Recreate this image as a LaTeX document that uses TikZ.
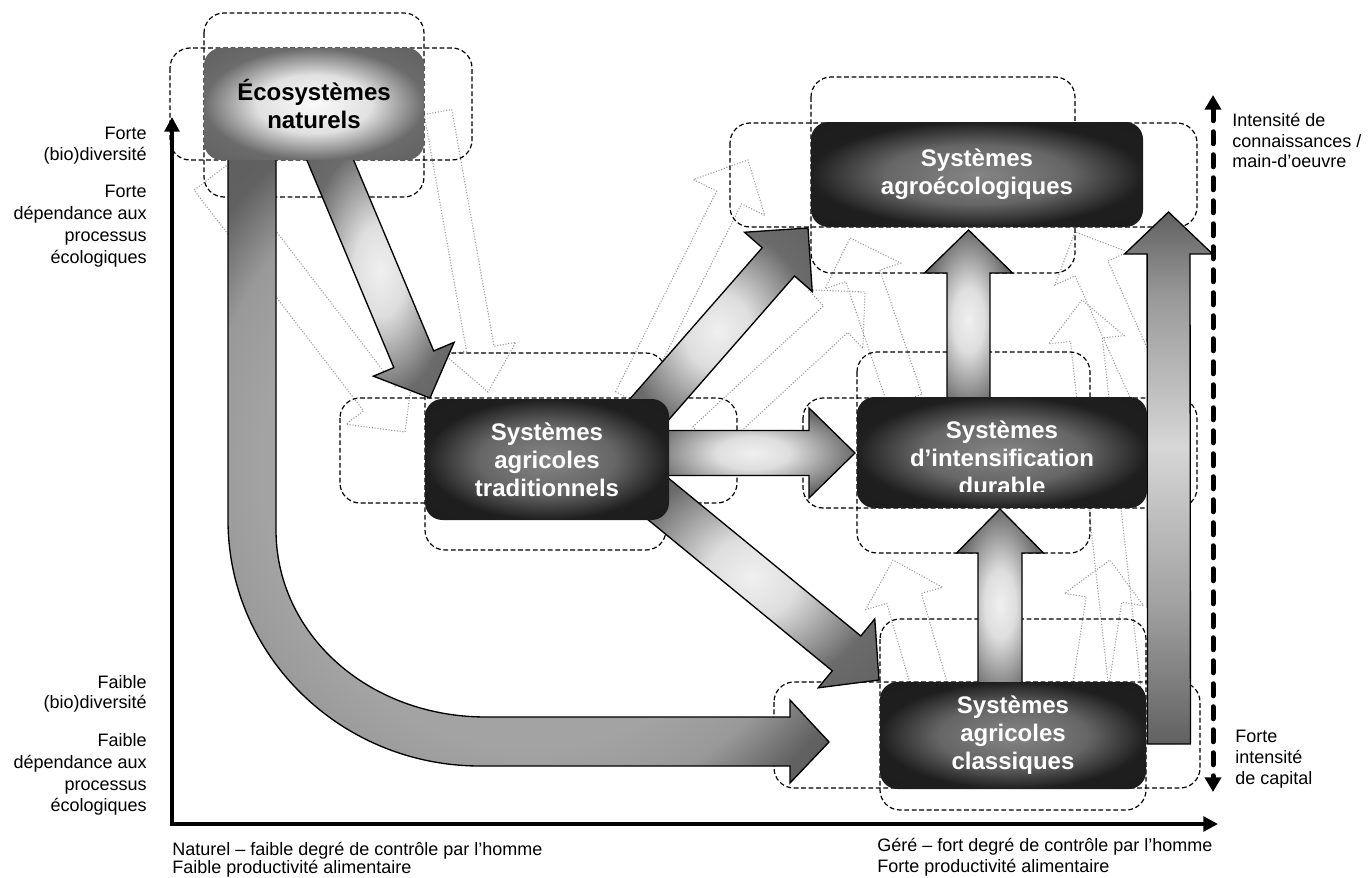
\documentclass[tikz,border=0pt]{standalone}
\usepackage{fontspec}
\setmainfont{Liberation Sans}
\usetikzlibrary{calc,arrows.meta}
\pgfdeclareradialshading{lightbox}{\pgfpoint{0bp}{0bp}}{color(0bp)=(black!2); color(13bp)=(black!12); color(25bp)=(black!58); color(50bp)=(black!68)}
\pgfdeclareradialshading{darkbox}{\pgfpoint{0bp}{0bp}}{color(0bp)=(black!48); color(14bp)=(black!60); color(25bp)=(black!88); color(50bp)=(black!90)}
\pgfdeclareradialshading{arrowshade}{\pgfpoint{0bp}{0bp}}{color(0bp)=(black!6); color(9bp)=(black!13); color(25bp)=(black!58); color(50bp)=(black!66)}
\pgfdeclareradialshading{curveshade}{\pgfpoint{0bp}{0bp}}{color(0bp)=(black!38); color(22bp)=(black!36); color(27bp)=(black!40); color(32bp)=(black!62); color(50bp)=(black!66)}
\pgfdeclareverticalshading{tallbar}{100bp}{color(0bp)=(black!62); color(25bp)=(black!62); color(38bp)=(black!37); color(53bp)=(black!16); color(67bp)=(black!40); color(75bp)=(black!62); color(100bp)=(black!62)}
% #1 prefix, #2 style, #3 start, #4 tip, #5 half shaft, #6 half head, #7 head length
\newcommand{\blockarr}[7]{%
  \coordinate (#1s) at #3;
  \coordinate (#1t) at #4;
  \coordinate (#1h) at ($(#1t)!#7!(#1s)$);
  \path[#2] ($(#1s)!#5!90:(#1t)$) -- ($(#1h)!#5!-90:(#1s)$) -- ($(#1h)!#6!-90:(#1s)$) -- (#1t)
     -- ($(#1h)!#6!90:(#1s)$) -- ($(#1h)!#5!90:(#1s)$) -- ($(#1s)!#5!-90:(#1t)$) -- cycle;
}
\begin{document}
\begin{tikzpicture}[x=0.75pt,y=-0.75pt,
  dashbox/.style={draw=black, line width=0.9pt, dash pattern=on 3.6pt off 2pt, rounded corners=15pt},
  sysbox/.style={rounded corners=13pt, inner sep=0pt, align=center, font=\fontsize{18}{21}\selectfont\bfseries},
  lbl/.style={inner sep=0pt, font=\fontsize{13.5}{16}\selectfont},
  blk/.style={shade, shading=arrowshade, draw=black, line width=1pt, line join=miter},
  ghost/.style={draw=black!40, line width=0.8pt, dash pattern=on 0.8pt off 1.3pt, line join=miter}]
\useasboundingbox[fill=white] (0,0) rectangle (1368,878);

% ghost (dotted) arrows
\blockarr{ga}{ghost}{(210,178)}{(405,432)}{15pt}{31.5pt}{31.5pt}
\blockarr{gb}{ghost}{(438,112)}{(488,392)}{10.5pt}{27pt}{33pt}
\blockarr{gc}{ghost}{(628,398)}{(748,160)}{10.5pt}{30pt}{31.5pt}
\blockarr{gd}{ghost}{(905,400)}{(850,238)}{13.5pt}{30pt}{30pt}
\blockarr{ge}{ghost}{(1160,420)}{(1075,232)}{13.5pt}{30pt}{30pt}
\blockarr{gf}{ghost}{(930,688)}{(893,560)}{13.5pt}{30pt}{30pt}
\blockarr{gg}{ghost}{(1090,690)}{(1110,560)}{13.5pt}{30pt}{30pt}
\blockarr{gh}{ghost}{(705,440)}{(865,292)}{13.5pt}{30pt}{30pt}
\blockarr{gi}{ghost}{(1125,690)}{(1082,300)}{12pt}{28.5pt}{30pt}

% dashed boxes
\draw[dashbox] (170,48) rectangle (472,160);
\draw[dashbox] (204,13) rectangle (424,197);
\draw[dashbox] (340,398) rectangle (737,503);
\draw[dashbox] (425,353) rectangle (666,550);
\draw[dashbox] (730,123) rectangle (1197,227);
\draw[dashbox] (811,77) rectangle (1075,273);
\draw[dashbox] (803,398) rectangle (1197,508);
\draw[dashbox] (857,352) rectangle (1090,553);
\draw[dashbox] (774,682) rectangle (1200,788);
\draw[dashbox] (880,619) rectangle (1146,810);

% axes
\coordinate (ytop) at (172,117);
\coordinate (orig) at (172,824);
\coordinate (xend) at (1218,824);
\draw[line width=3pt, line join=miter, {Triangle[length=11pt,width=11pt]}-{Triangle[length=11pt,width=11pt]}] (ytop) -- (orig) -- (xend);
\coordinate (dtop) at (1213,95);
\coordinate (dbot) at (1213,792);
\draw[line width=3.75pt, line cap=round, dash pattern=on 9pt off 8.25pt, {Triangle[length=11pt,width=12pt]}-{Triangle[length=11pt,width=12pt]}] (dtop) -- (dbot);

% curved arrow from natural ecosystems to classical systems
\path[blk, shading=curveshade] (228,150) -- (228,520) .. controls (228,656) and (341,766) .. (480,766)
  -- (790,766) -- (790,783) -- (829,742) -- (790,700) -- (790,717) -- (486,717)
  .. controls (367,717) and (276,633) .. (276,530) -- (276,150) -- cycle;

% straight block arrows
\blockarr{ab}{blk}{(326,150)}{(430,398)}{16.2pt}{32.8pt}{31.5pt}
\blockarr{ac}{blk}{(640,420)}{(808,228)}{16.1pt}{33.75pt}{33.75pt}
\blockarr{ad}{blk}{(650,453)}{(855,453)}{16.9pt}{33.75pt}{34.5pt}
\blockarr{ae}{blk}{(640,484)}{(879,680)}{16.9pt}{33.4pt}{31.5pt}
\blockarr{af}{blk}{(1000,700)}{(1000,509)}{16.5pt}{32.6pt}{33pt}
\blockarr{ag}{blk}{(968.5,410)}{(968.5,230)}{16.1pt}{33pt}{32.25pt}
\blockarr{ah}{blk, shading=tallbar}{(1169,744)}{(1168.5,212)}{16.1pt}{33pt}{31.5pt}

% system boxes
\node[sysbox, shade, shading=lightbox, minimum width=165pt, minimum height=84pt] (n1) at (314,104) {Écosystèmes\\naturels};
\node[sysbox, shade, shading=darkbox, text=white, minimum width=183pt, minimum height=90.75pt] (n2) at (547,459.5) {Systèmes\\agricoles\\traditionnels};
\node[sysbox, shade, shading=darkbox, text=white, minimum width=249pt, minimum height=78.75pt] (n3) at (977,174.5) {Systèmes\\agroécologiques};
\node[sysbox, shade, shading=darkbox, minimum width=217.5pt, minimum height=83.25pt] (n4) at (1002,452.5) {};
\begin{scope}
\clip (857,397) rectangle (1147,491);
\node[sysbox, text=white] (n4t) at (1002,458) {Systèmes\\d’intensification\\durable};
\end{scope}
\node[sysbox, shade, shading=darkbox, text=white, minimum width=199.5pt, minimum height=80.25pt] (n5) at (1013,735.5) {Systèmes\\agricoles\\classiques};

% left labels
\node[lbl, anchor=base east] (l1) at (147,139) {Forte};
\node[lbl, anchor=base east] (l2) at (147,160) {(bio)diversité};
\node[lbl, anchor=base east] (l3) at (147,197) {Forte};
\node[lbl, anchor=base east] (l4) at (147,219) {dépendance aux};
\node[lbl, anchor=base east] (l5) at (147,241) {processus};
\node[lbl, anchor=base east] (l6) at (147,263) {écologiques};
\node[lbl, anchor=base east] (l7) at (147,688) {Faible};
\node[lbl, anchor=base east] (l8) at (147,708) {(bio)diversité};
\node[lbl, anchor=base east] (l9) at (147,746) {Faible};
\node[lbl, anchor=base east] (l10) at (147,768) {dépendance aux};
\node[lbl, anchor=base east] (l11) at (147,790) {processus};
\node[lbl, anchor=base east] (l12) at (147,811) {écologiques};
% bottom labels
\node[lbl, anchor=base west] (b1) at (172,855) {Naturel – faible degré de contrôle par l’homme};
\node[lbl, anchor=base west] (b2) at (172,873) {Faible productivité alimentaire};
\node[lbl, anchor=base west] (b3) at (877,851) {Géré – fort degré de contrôle par l’homme};
\node[lbl, anchor=base west] (b4) at (877,872) {Forte productivité alimentaire};
% right labels
\node[lbl, anchor=base west] (r1) at (1232,126) {Intensité de};
\node[lbl, anchor=base west] (r2) at (1232,147) {connaissances /};
\node[lbl, anchor=base west] (r3) at (1232,167) {main-d’oeuvre};
\node[lbl, anchor=base west] (r4) at (1235,742) {Forte};
\node[lbl, anchor=base west] (r5) at (1235,763) {intensité};
\node[lbl, anchor=base west] (r6) at (1235,784) {de capital};
\end{tikzpicture}
\end{document}
